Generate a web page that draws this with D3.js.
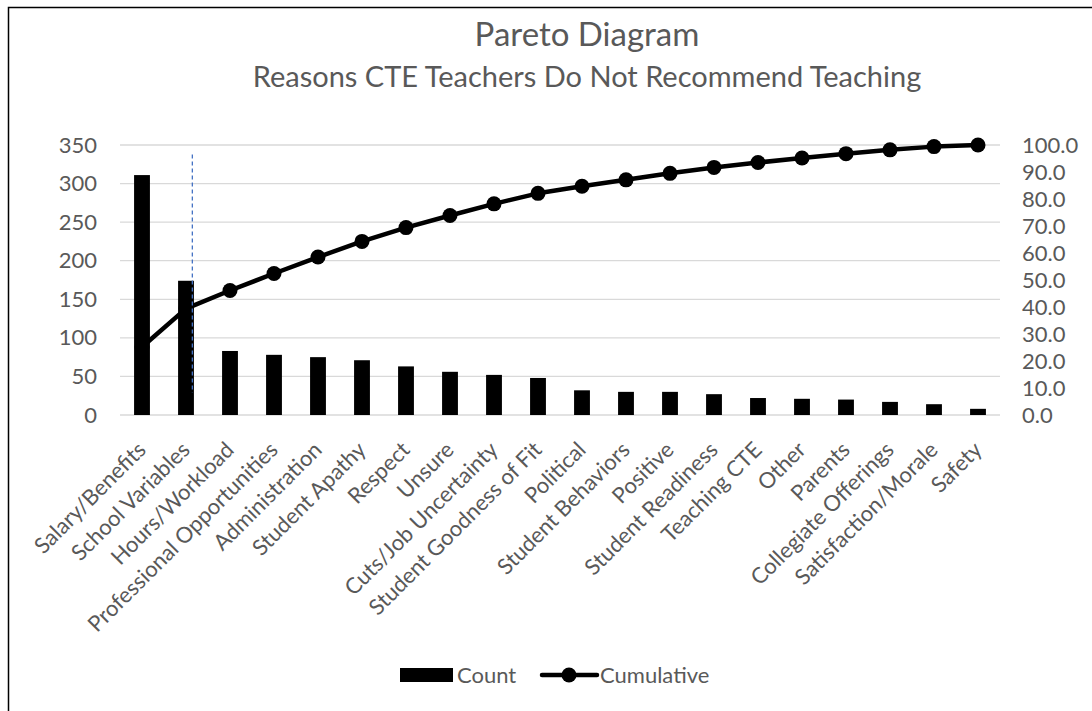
<!DOCTYPE html>
<html>
<head>
<meta charset="utf-8">
<script src="https://cdn.jsdelivr.net/npm/d3@7"></script>
<style>
  html, body { margin: 0; padding: 0; background: #fff; }
  svg { display: block; font-family: Lato, "Open Sans", sans-serif; }
</style>
</head>
<body>
<svg id="chart" width="1092" height="711"></svg>
<script>
const categories = ["Salary/Benefits", "School Variables", "Hours/Workload", "Professional Opportunities",
  "Administration", "Student Apathy", "Respect", "Unsure", "Cuts/Job Uncertainty", "Student Goodness of Fit",
  "Political", "Student Behaviors", "Positive", "Student Readiness", "Teaching CTE", "Other", "Parents",
  "Collegiate Offerings", "Satisfaction/Morale", "Safety"];
const counts = [311, 174, 83, 78, 75, 71, 63, 56, 52, 48, 32, 30, 30, 27, 22, 21, 20, 17, 14, 8];
const cumulative = [25.2, 39.4, 46.1, 52.4, 58.5, 64.3, 69.4, 73.9, 78.2, 82.1, 84.7, 87.1, 89.5, 91.7,
  93.5, 95.2, 96.8, 98.2, 99.4, 100.0];
const countTicks = [0, 50, 100, 150, 200, 250, 300, 350];
const pctTicks = [0, 10, 20, 30, 40, 50, 60, 70, 80, 90, 100];
const titleText = "Pareto Diagram";
const subtitleText = "Reasons CTE Teachers Do Not Recommend Teaching";
const seriesNames = ["Count", "Cumulative"];

const svg = d3.select("#chart");
const textColor = "#595959";

// chart border
svg.append("rect").attr("x", 8.5).attr("y", 7.5).attr("width", 1200).attr("height", 800)
  .attr("fill", "none").attr("stroke", "#000").attr("stroke-width", 1.5);

const plot = { left: 120, right: 1000, top: 145, bottom: 415 };

const x = d3.scaleBand().domain(categories).range([plot.left, plot.right])
  .paddingInner(0.64).paddingOuter(0.32);
const yL = d3.scaleLinear().domain([0, 350]).range([plot.bottom, plot.top]);
const yR = d3.scaleLinear().domain([0, 100]).range([plot.bottom, plot.top]);

// gridlines
svg.append("g").selectAll("line").data(countTicks).join("line")
  .attr("x1", plot.left).attr("x2", plot.right)
  .attr("y1", d => yL(d)).attr("y2", d => yL(d))
  .attr("stroke", "#d9d9d9").attr("stroke-width", 1.3);

// left axis
const axL = svg.append("g").attr("transform", `translate(${plot.left},0)`)
  .call(d3.axisLeft(yL).tickValues(countTicks).tickSize(0).tickPadding(23).tickFormat(d3.format("d")));
axL.select(".domain").remove();
axL.selectAll("text").attr("fill", textColor).style("font-size", "22px").style("font-family", "Lato");

// right axis
const axR = svg.append("g").attr("transform", `translate(${plot.right},0)`)
  .call(d3.axisRight(yR).tickValues(pctTicks).tickSize(0).tickPadding(22).tickFormat(d3.format(".1f")));
axR.select(".domain").remove();
axR.selectAll("text").attr("fill", textColor).style("font-size", "22px").style("font-family", "Lato");

// bars
svg.append("g").selectAll("rect").data(categories).join("rect")
  .attr("x", d => x(d)).attr("width", x.bandwidth())
  .attr("y", (d, i) => yL(counts[i])).attr("height", (d, i) => yL(0) - yL(counts[i]))
  .attr("fill", "#000");

// cumulative line
const cx = d => x(d) + x.bandwidth() / 2;
const line = d3.line().x((d, i) => cx(categories[i])).y(d => yR(d));
svg.append("path").datum(cumulative).attr("d", line)
  .attr("fill", "none").attr("stroke", "#000").attr("stroke-width", 4.5).attr("stroke-linejoin", "round");
svg.append("g").selectAll("circle").data(cumulative).join("circle")
  .attr("cx", (d, i) => cx(categories[i])).attr("cy", d => yR(d)).attr("r", 7.5).attr("fill", "#000");

// blue dashed marker line
const dashX = x(categories[1]) + x.bandwidth() * 0.9;
svg.append("line").attr("x1", dashX).attr("x2", dashX)
  .attr("y1", yR(96.5)).attr("y2", yR(8.2))
  .attr("stroke", "#4472c4").attr("stroke-width", 1.3).attr("stroke-dasharray", "4,3");

// category labels
svg.append("g").selectAll("text").data(categories).join("text")
  .attr("transform", d => `translate(${cx(d) - 6},${plot.bottom + 25}) rotate(-45)`)
  .attr("text-anchor", "end").attr("dy", "0.72em")
  .attr("fill", textColor).style("font-size", "22px")
  .text(d => d);

// titles
const tcx = 587;
svg.append("text").attr("x", tcx).attr("y", 46).attr("text-anchor", "middle")
  .attr("fill", textColor).style("font-size", "33px").text(titleText);
svg.append("text").attr("x", tcx).attr("y", 87).attr("text-anchor", "middle")
  .attr("fill", textColor).style("font-size", "29px").text(subtitleText);

// legend
const lg = svg.append("g");
lg.append("rect").attr("x", 400).attr("y", 668).attr("width", 53).attr("height", 14).attr("fill", "#000");
lg.append("text").attr("x", 457).attr("y", 683).attr("fill", textColor).style("font-size", "22px").text(seriesNames[0]);
lg.append("line").attr("x1", 542).attr("x2", 597).attr("y1", 675).attr("y2", 675)
  .attr("stroke", "#000").attr("stroke-width", 4.5).attr("stroke-linecap", "round");
lg.append("circle").attr("cx", 569).attr("cy", 675).attr("r", 7.5).attr("fill", "#000");
lg.append("text").attr("x", 600).attr("y", 683).attr("fill", textColor).style("font-size", "22px").text(seriesNames[1]);
</script>
</body>
</html>
